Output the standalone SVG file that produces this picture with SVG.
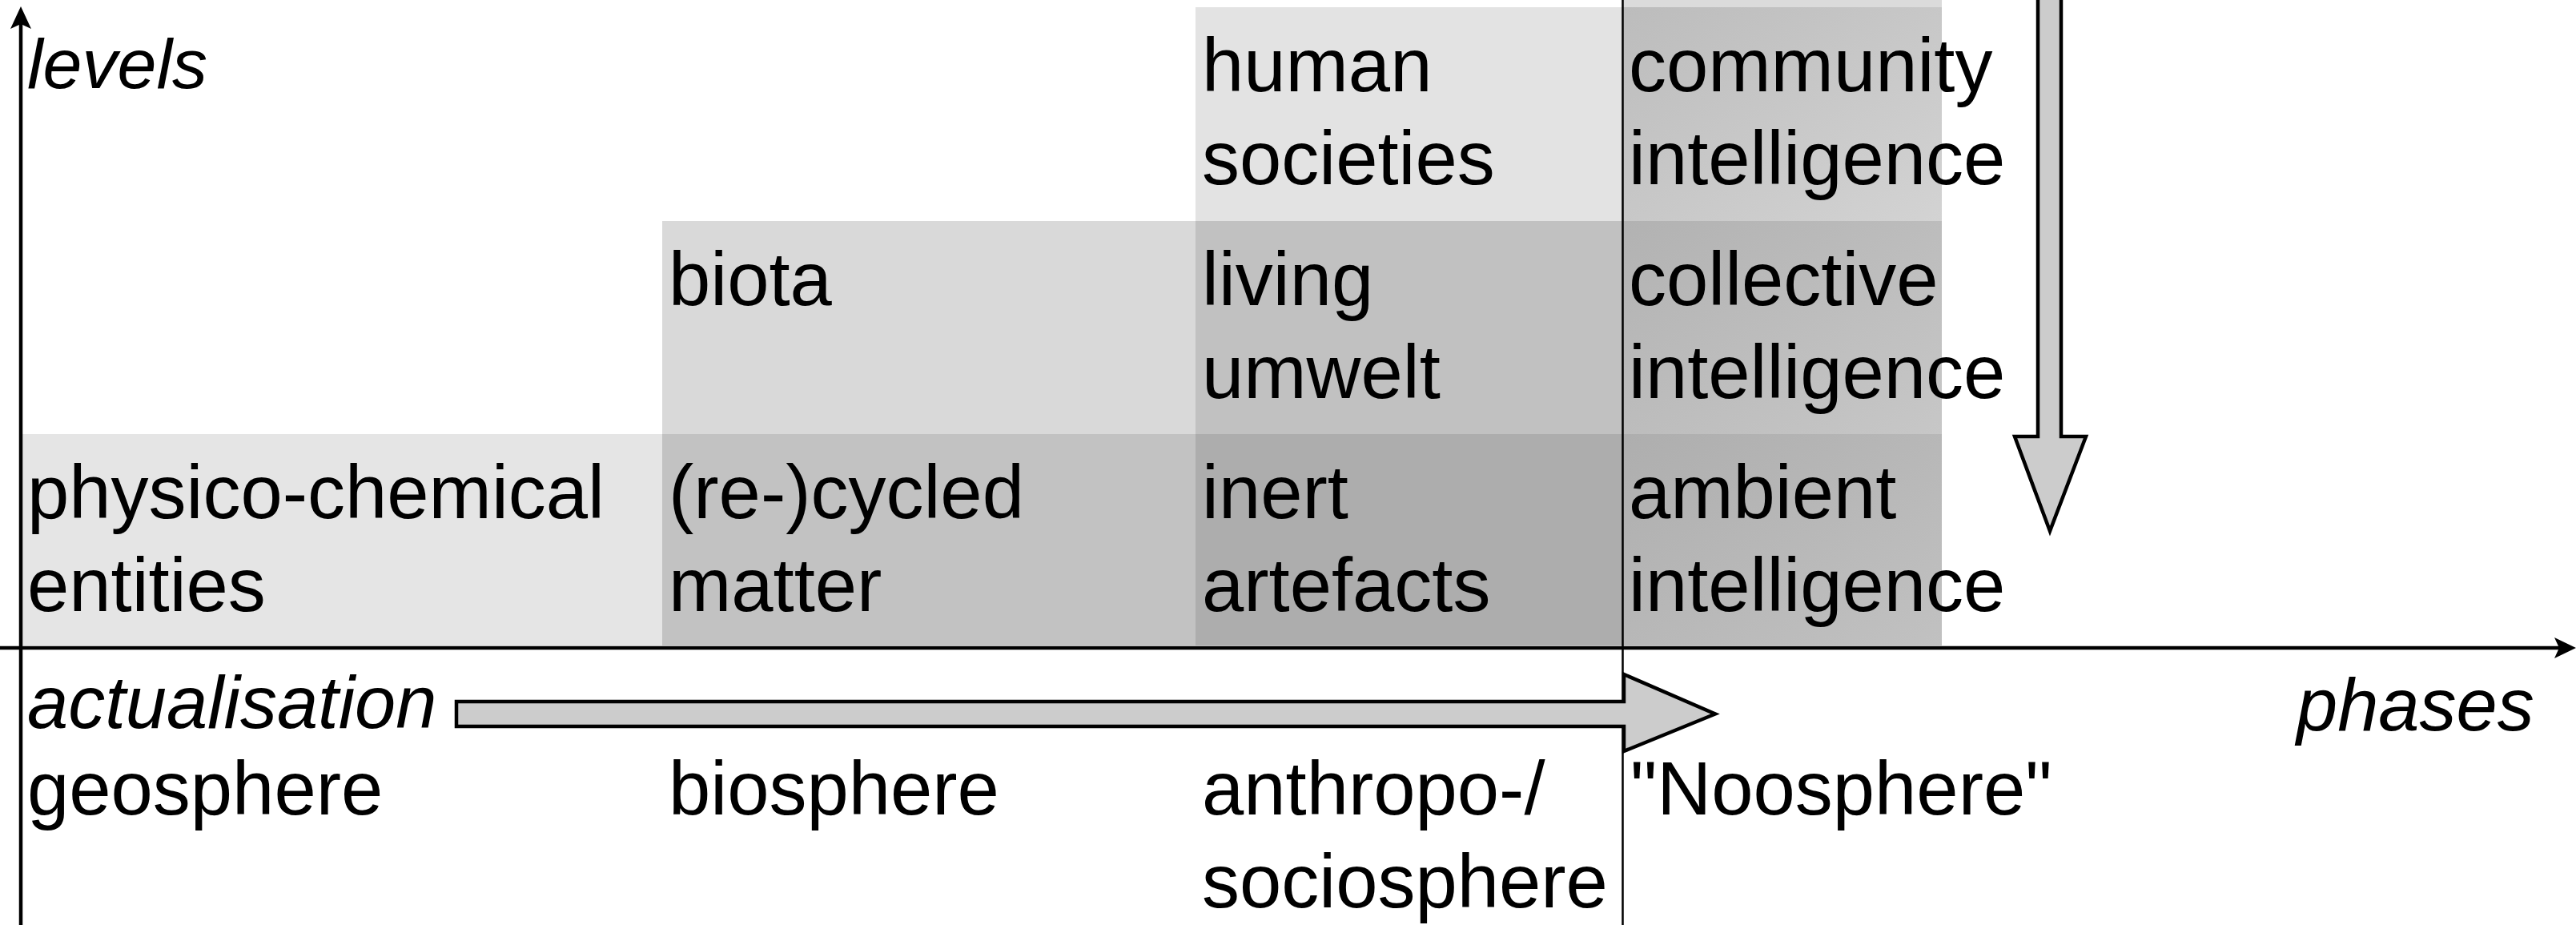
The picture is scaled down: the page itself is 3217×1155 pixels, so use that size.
<svg xmlns="http://www.w3.org/2000/svg" width="3217" height="1155" viewBox="0 0 3217 1155">
  <style>
    text { font-family: "Liberation Sans", Arial, Helvetica, sans-serif; font-size: 94px; fill: #000; }
    .axis-label { font-style: italic; font-size: 92px; }
    .axis { stroke: #000; stroke-width: 4.5; fill: none; }
    .bigarrow { fill: #cccccc; stroke: #000; stroke-width: 4.5; stroke-linejoin: miter; stroke-miterlimit: 12; }
    .divider { stroke: #000; stroke-width: 2.5; }
  </style>
  <defs>
    <linearGradient id="g-top" x1="0" y1="0" x2="1" y2="1">
      <stop offset="0" stop-color="#bcbcbc"/>
      <stop offset="1" stop-color="#d3d3d3"/>
    </linearGradient>
    <linearGradient id="g-mid" x1="0" y1="0" x2="1" y2="1">
      <stop offset="0" stop-color="#b2b2b2"/>
      <stop offset="1" stop-color="#c7c7c7"/>
    </linearGradient>
    <linearGradient id="g-low" x1="0" y1="0" x2="1" y2="1">
      <stop offset="0" stop-color="#aeaeae"/>
      <stop offset="1" stop-color="#c1c1c1"/>
    </linearGradient>
  </defs>
  <rect width="3217" height="1155" fill="#fff"/>

  <!-- level cells: columns are phases, rows are levels -->
  <g id="physico-chemical-entities">
    <rect x="26" y="542" width="801" height="264" fill="#e5e5e5"/>
    <text x="34" y="647">physico-chemical</text>
    <text x="34" y="763">entities</text>
  </g>
  <g id="biota">
    <rect x="827" y="276" width="666" height="266" fill="#d9d9d9"/>
    <text x="835" y="381">biota</text>
  </g>
  <g id="recycled-matter">
    <rect x="827" y="542" width="666" height="264" fill="#c2c2c2"/>
    <text x="835" y="647">(re-)cycled</text>
    <text x="835" y="763">matter</text>
  </g>
  <g id="human-societies">
    <rect x="1493" y="9" width="533" height="267" fill="#e3e3e3"/>
    <text x="1501" y="114">human</text>
    <text x="1501" y="230">societies</text>
  </g>
  <g id="living-umwelt">
    <rect x="1493" y="276" width="533" height="266" fill="#c1c1c1"/>
    <text x="1501" y="381">living</text>
    <text x="1501" y="497">umwelt</text>
  </g>
  <g id="inert-artefacts">
    <rect x="1493" y="542" width="533" height="264" fill="#adadad"/>
    <text x="1501" y="647">inert</text>
    <text x="1501" y="763">artefacts</text>
  </g>
  <g id="community-intelligence">
    <rect x="2026" y="0" width="399" height="9" fill="#dbdbdb"/>
    <rect x="2026" y="9" width="399" height="267" fill="url(#g-top)"/>
    <text x="2034" y="114">community</text>
    <text x="2034" y="230">intelligence</text>
  </g>
  <g id="collective-intelligence">
    <rect x="2026" y="276" width="399" height="266" fill="url(#g-mid)"/>
    <text x="2034" y="381">collective</text>
    <text x="2034" y="497">intelligence</text>
  </g>
  <g id="ambient-intelligence">
    <rect x="2026" y="542" width="399" height="264" fill="url(#g-low)"/>
    <text x="2034" y="647">ambient</text>
    <text x="2034" y="763">intelligence</text>
  </g>

  <!-- phase names below the axis -->
  <g id="geosphere"><text x="34" y="1017">geosphere</text></g>
  <g id="biosphere"><text x="835" y="1017">biosphere</text></g>
  <g id="anthroposphere">
    <text x="1501" y="1017">anthropo-/</text>
    <text x="1501" y="1133">sociosphere</text>
  </g>
  <g id="noosphere"><text x="2036" y="1017">"Noosphere"</text></g>

  <!-- axis titles -->
  <g id="axis-titles">
    <text class="axis-label" x="34" y="110" style="font-size:88px">levels</text>
    <text class="axis-label" x="34" y="909">actualisation</text>
    <text class="axis-label" x="2868" y="912">phases</text>
  </g>

  <!-- axes, divider and arrows -->
  <g id="connectors">
    <line class="divider" x1="2026.5" y1="0" x2="2026.5" y2="1155"/>
    <line class="axis" x1="26" y1="1155" x2="26" y2="28"/>
    <path d="M26,8 L39,36 L26,30 L13,36 Z" fill="#000"/>
    <line class="axis" x1="0" y1="809" x2="3200" y2="809"/>
    <path d="M3217,809 L3190,796 L3196,809 L3190,822 Z" fill="#000"/>
    <path class="bigarrow" d="M570,876 L2028,876 L2028,842 L2142,891.5 L2028,938 L2028,907 L570,907 Z"/>
    <path class="bigarrow" d="M2545,-10 L2545,545 L2516,545 L2560,663 L2605,545 L2574,545 L2574,-10 Z"/>
  </g>
</svg>
